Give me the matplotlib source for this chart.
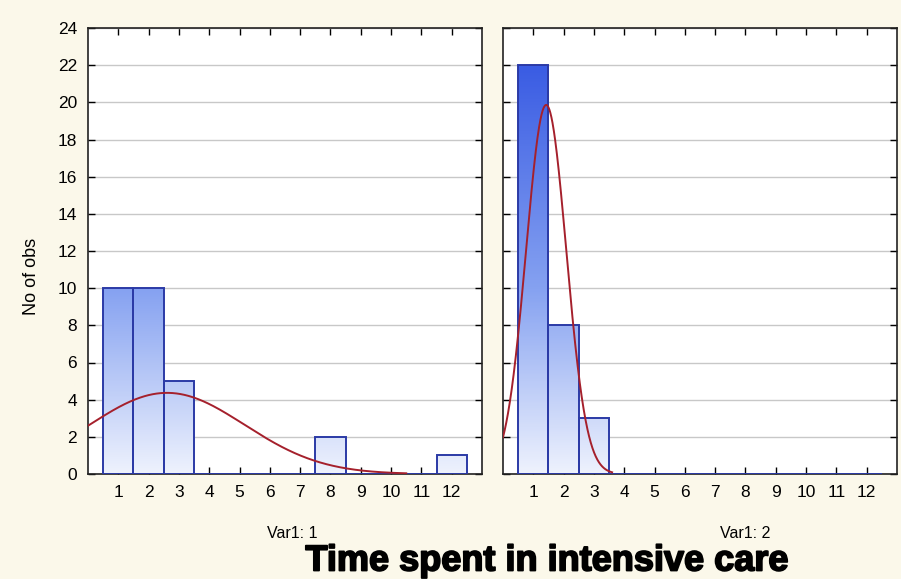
import numpy as np
import matplotlib
matplotlib.use("Agg")
import matplotlib.pyplot as plt
import matplotlib.patheffects as pe
from matplotlib.colors import LinearSegmentedColormap, Normalize

# ---- data ----
bins = [1, 2, 3, 4, 5, 6, 7, 8, 9, 10, 11, 12]
counts_var1_1 = [10, 10, 5, 0, 0, 0, 0, 2, 0, 0, 0, 1]
counts_var1_2 = [22, 8, 3, 0, 0, 0, 0, 0, 0, 0, 0, 0]
panel_labels = ["Var1: 1", "Var1: 2"]
yticks = list(range(0, 25, 2))
curve_end = [10.5, 3.6]

plt.rcParams['font.family'] = ['Liberation Sans', 'DejaVu Sans']

bg = '#fbf8ea'
fig = plt.figure(figsize=(9.01, 5.79), dpi=100, facecolor=bg)

cmap = LinearSegmentedColormap.from_list(
    'barg', [(0.0, '#eef2fd'), (0.45, '#86a2f1'), (1.0, '#3a5ce3')])
norm = Normalize(vmin=0, vmax=22)

axes_pos = [[88/901, 1-474/579, 394/901, 446/579],
            [503/901, 1-474/579, 394/901, 446/579]]

for i, counts in enumerate([counts_var1_1, counts_var1_2]):
    ax = fig.add_axes(axes_pos[i])
    ax.set_facecolor('white')
    ax.set_axisbelow(True)
    ax.yaxis.grid(True, color='#c8c8c8', lw=1)
    bars = ax.bar(bins, counts, width=1.0, facecolor='none',
                  edgecolor='#2b3aa6', lw=1.4, zorder=3)
    for b in bars:
        h = b.get_height()
        if h <= 0:
            continue
        x0 = b.get_x()
        w = b.get_width()
        grad = np.linspace(0, h, 200)[:, None]
        ax.imshow(grad, extent=[x0, x0 + w, 0, h], origin='lower',
                  cmap=cmap, norm=norm, aspect='auto', zorder=2,
                  interpolation='bilinear')
    # fitted normal curve
    c = np.array(counts, dtype=float)
    x = np.array(bins, dtype=float)
    n = c.sum()
    mu = (c * x).sum() / n
    sd = np.sqrt((c * (x - mu) ** 2).sum() / (n - 1))
    xs = np.linspace(0, curve_end[i], 400)
    ys = n / (sd * np.sqrt(2 * np.pi)) * np.exp(-0.5 * ((xs - mu) / sd) ** 2)
    ax.plot(xs, ys, color='#a5202c', lw=1.4, zorder=4)

    ax.set_xlim(0, 13)
    ax.set_ylim(0, 24)
    ax.set_xticks(bins)
    ax.set_yticks(yticks)
    ax.tick_params(direction='in', length=5, width=1, top=True, right=True,
                   labelsize=12.5, colors='black', pad=8)
    if i == 1:
        ax.tick_params(labelleft=False)
    for s in ax.spines.values():
        s.set_linewidth(1.2)
        s.set_color('#222222')

fig.text(32/901, 1-276/579, "No of obs", rotation=90, ha='center',
         va='center', fontsize=13)
fig.text(292/901, 1-533/579, panel_labels[0], ha='center', va='center',
         fontsize=11.5)
fig.text(745/901, 1-533/579, panel_labels[1], ha='center', va='center',
         fontsize=11.5)
fig.text(547/901, 1-561/579, "Time spent in intensive care", ha='center',
         va='center', fontsize=26, fontweight='bold',
         path_effects=[pe.withStroke(linewidth=1.3, foreground='black')])

fig.savefig('out.png', dpi=100, facecolor=bg)
